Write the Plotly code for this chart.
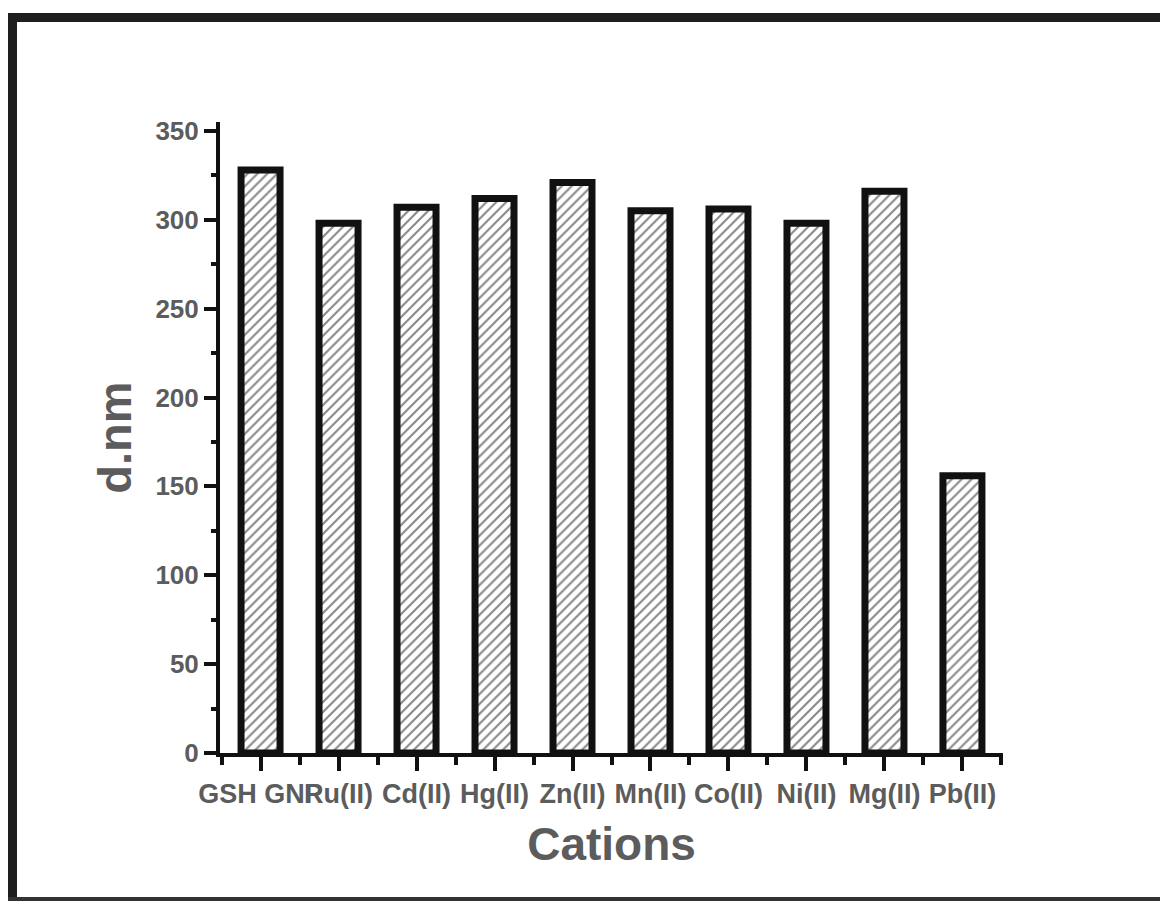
import plotly.graph_objects as go

categories = ["GSH GNP", "Ru(II)", "Cd(II)", "Hg(II)", "Zn(II)", "Mn(II)", "Co(II)", "Ni(II)", "Mg(II)", "Pb(II)"]
values = [328, 298, 307, 312, 321, 305, 306, 298, 316, 156]
y_ticks = [0, 50, 100, 150, 200, 250, 300, 350]

FONT = "Liberation Sans, Arial, Helvetica, sans-serif"
TXT = "#5c5c5c"

xpos = list(range(len(categories)))

fig = go.Figure()
fig.add_trace(go.Bar(
    x=xpos, y=values, width=0.5,
    marker=dict(color="white", line=dict(color="#111111", width=7),
                pattern=dict(shape="/", fgcolor="#111111", bgcolor="white", size=7, solidity=0.3)),
    showlegend=False,
))

L, R, T, B = 220, 157, 122, 148
W, H = 1160, 901
pw, ph = W - L - R, H - T - B

def px(x):
    return (x - L) / pw

def py(y):
    return (H - B - y) / ph

frame = "#1e1e1e"
shapes = [
    dict(type="line", xref="paper", yref="paper", x0=px(12.5), x1=px(12.5), y0=py(13), y1=py(901), line=dict(color=frame, width=9)),
    dict(type="line", xref="paper", yref="paper", x0=px(8), x1=px(1160), y0=py(17.5), y1=py(17.5), line=dict(color=frame, width=9)),
    dict(type="line", xref="paper", yref="paper", x0=px(8), x1=px(1160), y0=py(899.5), y1=py(899.5), line=dict(color="#333333", width=5)),
]

fig.update_layout(
    width=W, height=H,
    margin=dict(l=L, r=R, t=T, b=B),
    paper_bgcolor="white", plot_bgcolor="white",
    shapes=shapes,
    font=dict(family=FONT, color=TXT),
    xaxis=dict(
        range=[-0.52, 9.52], tickmode="array", tickvals=xpos, ticktext=categories, tickangle=0,
        showgrid=False, zeroline=False, showline=True, linecolor="#111111", linewidth=4,
        ticks="outside", ticklen=14, tickwidth=3.5, tickcolor="#111111",
        tickfont=dict(family=FONT, size=27, color=TXT, weight="bold"),
        minor=dict(ticks="outside", tick0=0.5, dtick=1, ticklen=8, tickwidth=3.5, tickcolor="#111111", showgrid=False),
        title=dict(text="Cations", font=dict(family=FONT, size=46, color=TXT, weight="bold"), standoff=20),
        fixedrange=True,
    ),
    yaxis=dict(
        range=[0, 355], tickmode="array", tickvals=y_ticks, ticktext=[str(v) for v in y_ticks],
        showgrid=False, zeroline=False, showline=True, linecolor="#111111", linewidth=4,
        ticks="outside", ticklen=12, tickwidth=3.5, tickcolor="#111111",
        tickfont=dict(family=FONT, size=26, color=TXT, weight="bold"),
        minor=dict(ticks="outside", tick0=25, dtick=50, ticklen=5, tickwidth=3.5, tickcolor="#111111", showgrid=False),
        title=dict(text="d.nm", font=dict(family=FONT, size=47, color=TXT, weight="bold"), standoff=10),
        fixedrange=True,
    ),
)

fig.write_html("out.html")
